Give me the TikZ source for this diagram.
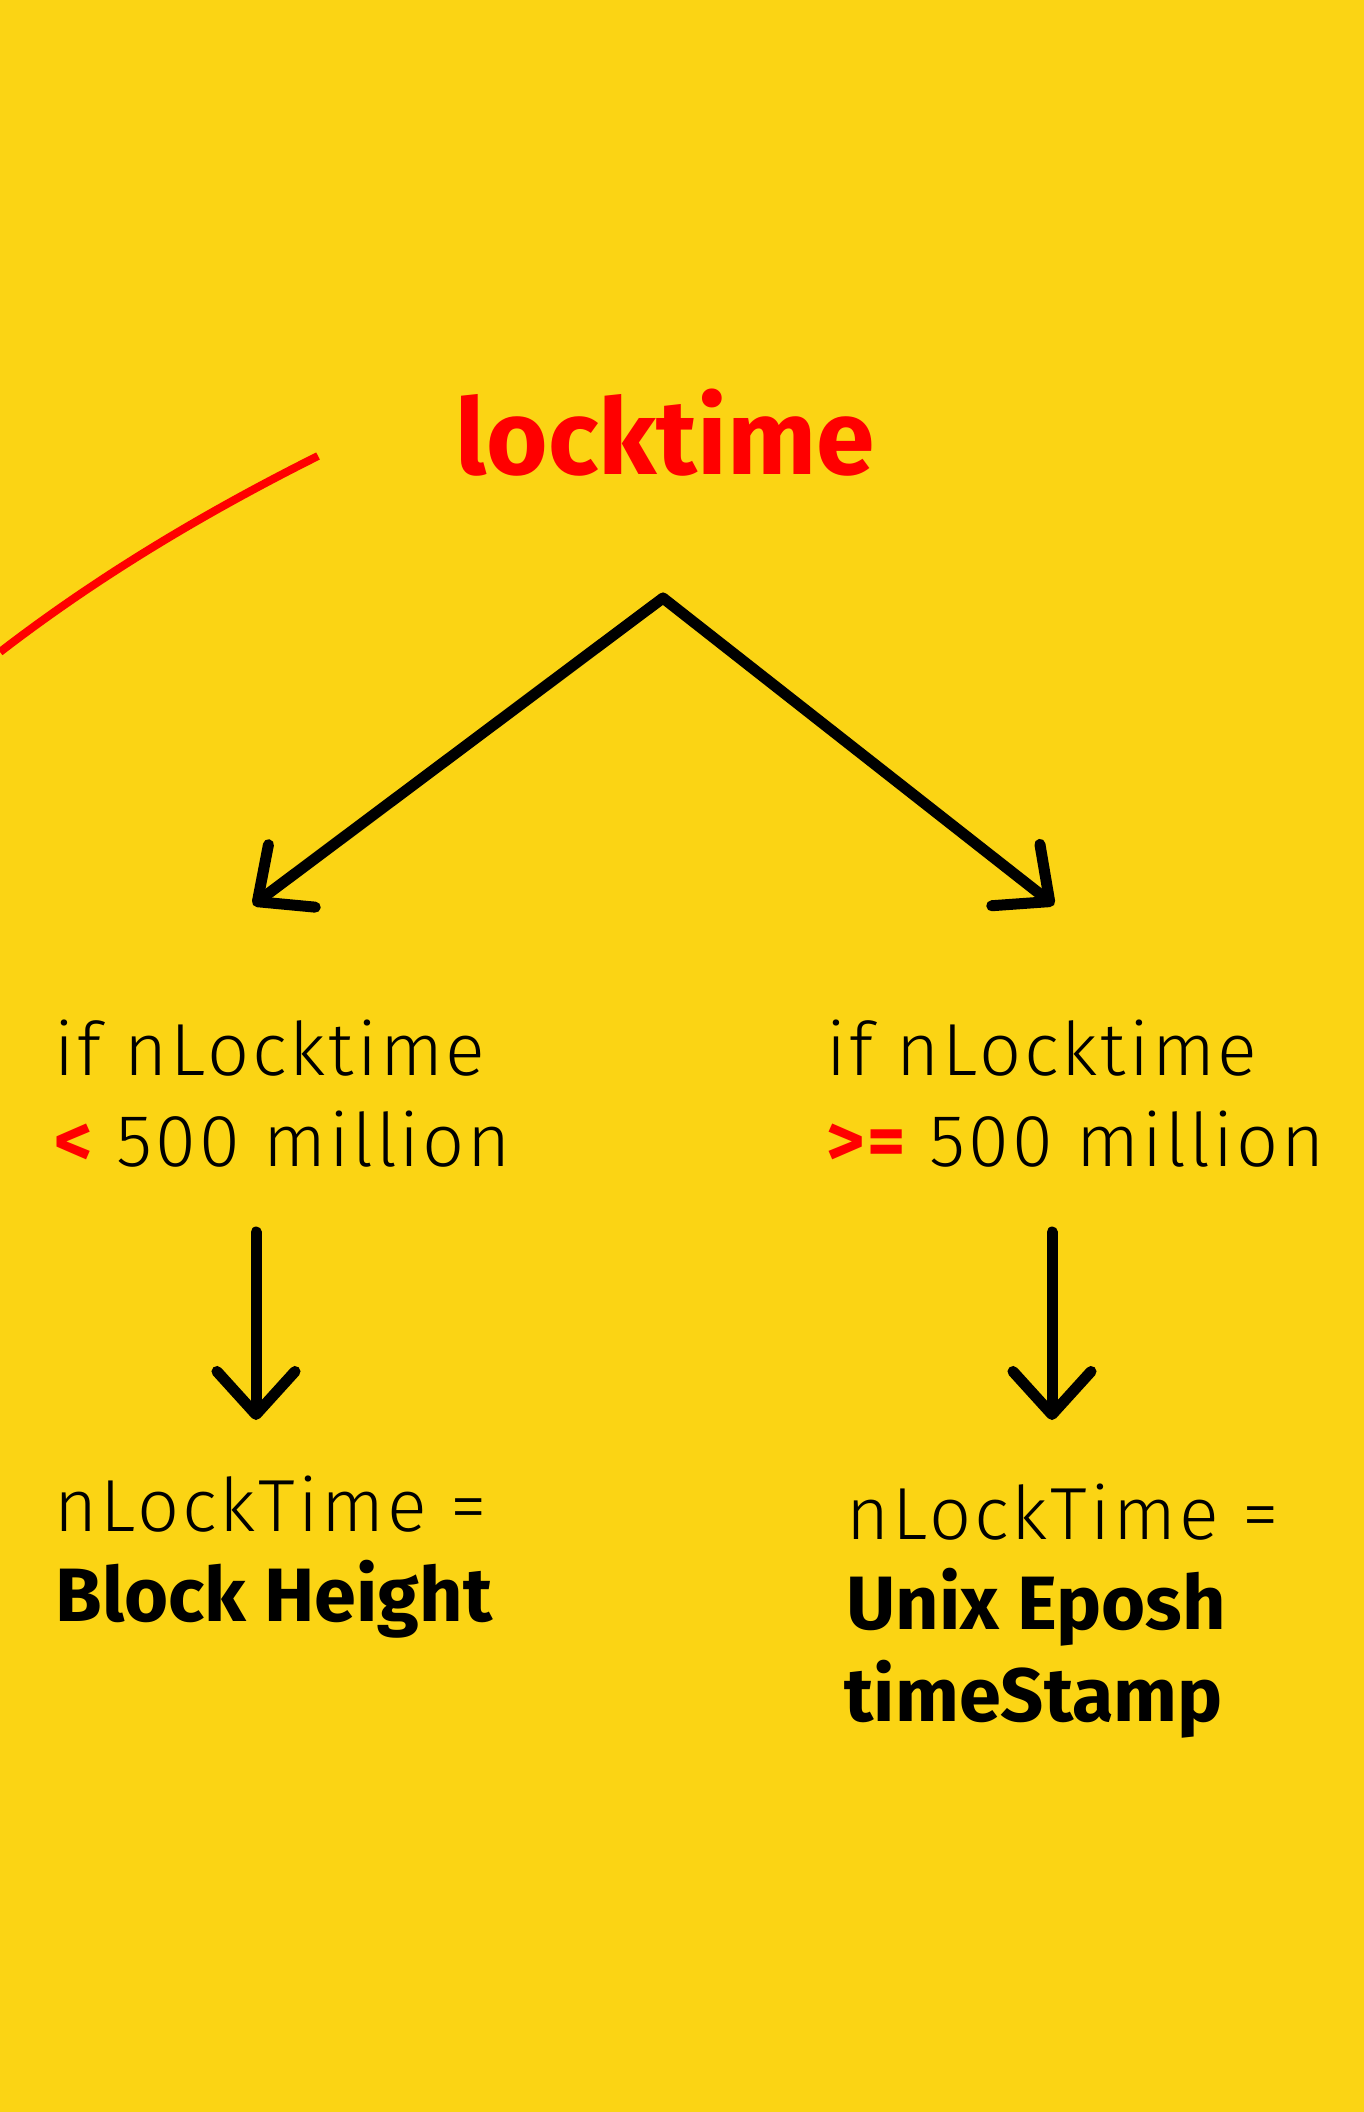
\documentclass[tikz,border=0pt]{standalone}
\usepackage{fontspec}
\setmainfont{Fira Sans}[UprightFont=* Light, BoldFont=* Bold]
\usetikzlibrary{arrows.meta}
\definecolor{bgyellow}{HTML}{FBD414}
\definecolor{markred}{HTML}{FF0000}
\begin{document}
\begin{tikzpicture}
  [x=0.01cm,y=-0.01cm,every node/.style={inner sep=0pt,anchor=base west},
   plaintext/.style={font=\fontsize{21}{25}\selectfont\addfontfeatures{LetterSpace=4}},
   boldtext/.style={font=\fontsize{21.5}{26}\selectfont\bfseries},
   arrowline/.style={line width=0.11cm,line cap=round,
     -{Straight Barb[length=0.43cm,width=0.78cm,round]}}]
  \fill[bgyellow] (0,0) rectangle (1364,2112);
  \useasboundingbox (0,0) rectangle (1364,2112);
  \draw[markred,line width=0.08cm] (318,456) .. controls (202,514) and (96,578) .. (0,652);
  \node (title)[anchor=base,text=markred,font=\fontsize{30}{36}\selectfont\bfseries] at (665,474) {locktime};
  \node (ifL)[plaintext] at (54,1075) {if nLocktime};
  \node (ltL)[plaintext] at (54,1166) {{\bfseries\color{markred}<} 500 million};
  \node (resL)[plaintext] at (54,1531) {nLockTime =};
  \node (valL)[boldtext] at (55,1621) {Block Height};
  \node (ifR)[plaintext] at (826,1075) {if nLocktime};
  \node (geR)[plaintext] at (826,1166) {{\bfseries\color{markred}>=} 500 million};
  \node (resR)[plaintext] at (846,1539) {nLockTime =};
  \node (valR)[boldtext] at (846,1629) {Unix Eposh};
  \node (stampR)[boldtext] at (844,1721) {timeStamp};
  \coordinate (apex) at (663,598);
  \coordinate (tipL) at (253,905);
  \coordinate (tipR) at (1054,905);
  \coordinate (downL) at (256,1232);
  \coordinate (endL) at (256,1420);
  \coordinate (downR) at (1052,1232);
  \coordinate (endR) at (1052,1420);
  \foreach \from/\to in {apex/tipL,apex/tipR,downL/endL,downR/endR}
    \draw[arrowline] (\from) -- (\to);
\end{tikzpicture}
\end{document}
